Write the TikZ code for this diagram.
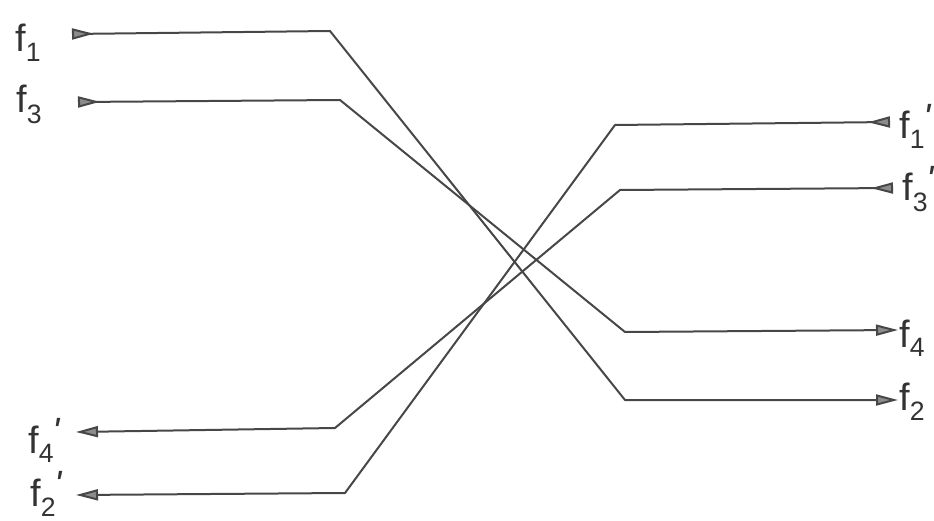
\documentclass[tikz,border=0pt]{standalone}
\usepackage{fontspec}
\setsansfont{Liberation Sans}
\usetikzlibrary{arrows.meta}
\newcommand{\fl}[1]{f\textsubscript{#1}}
\newcommand{\flp}[1]{f\textsubscript{#1}\kern-0.04em\raisebox{0.22em}{\itshape\textquotesingle}}
\begin{document}
\begin{tikzpicture}[x=1pt,y=-1pt,
  wire/.style={draw=black!72, line width=2pt, line join=round},
  bothl/.style={arrows={Triangle[reversed,length=22pt,width=11pt,fill=black!45]-Triangle[length=22pt,width=11pt,fill=black!45]}},
  lab/.style={font=\sffamily\fontsize{38}{44}\selectfont, inner sep=0pt, anchor=base west, text=black!80}]
\useasboundingbox (0,0) rectangle (934,521);
% labels
\node[lab] (lf1)  at (15,52)  {\fl{1}};
\node[lab] (lf3)  at (16,113) {\fl{3}};
\node[lab] (lf1p) at (899,139) {\flp{1}};
\node[lab] (lf3p) at (902,201) {\flp{3}};
\node[lab] (lf4)  at (899,347) {\fl{4}};
\node[lab] (lf2)  at (899,410) {\fl{2}};
\node[lab] (lf4p) at (28,453) {\flp{4}};
\node[lab] (lf2p) at (30,506) {\flp{2}};
% coordinates
\coordinate (a1) at (72,34);  \coordinate (a2) at (330,31);  \coordinate (a3) at (625,400); \coordinate (a4) at (898,400);
\coordinate (b1) at (78,102); \coordinate (b2) at (340,100); \coordinate (b3) at (625,332); \coordinate (b4) at (898,330);
\coordinate (c1) at (890,122); \coordinate (c2) at (615,125); \coordinate (c3) at (345,493); \coordinate (c4) at (76,495);
\coordinate (d1) at (893,188); \coordinate (d2) at (620,190); \coordinate (d3) at (335,428); \coordinate (d4) at (76,432);
% wires
\draw[wire,bothl] (a1) -- (a2) -- (a3) -- (a4);
\draw[wire,bothl] (b1) -- (b2) -- (b3) -- (b4);
\draw[wire,bothl] (c1) -- (c2) -- (c3) -- (c4);
\draw[wire,bothl] (d1) -- (d2) -- (d3) -- (d4);
\end{tikzpicture}
\end{document}
